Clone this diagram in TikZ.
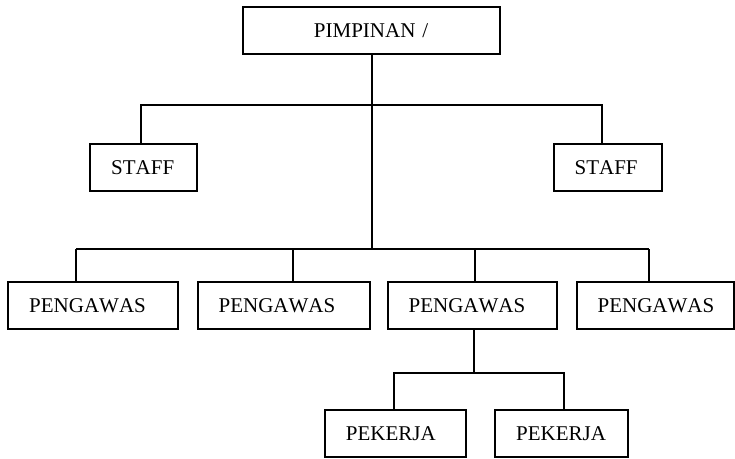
\documentclass[tikz,border=0pt]{standalone}
\usepackage{fontspec}
\setmainfont[Kerning=Off]{Liberation Serif}
\begin{document}
\begin{tikzpicture}[x=1pt,y=-1pt,
  orgbox/.style={draw, line width=1.8pt, rectangle, anchor=north west,
    inner ysep=0pt, inner xsep=21pt, minimum height=47pt, align=left,
    text height=14pt, text depth=0pt, font=\fontsize{21}{25}\selectfont},
  wire/.style={line width=1.8pt}]
\useasboundingbox (0,0) rectangle (735,458);

% head of the organisation
\node[orgbox, inner xsep=0pt, align=center, text width=257pt] (head) at (241.7,6) {PIMPINAN /};

% staff
\node[orgbox, text width=64.4pt] (staffL) at (89.3,142.7) {STAFF};
\node[orgbox, text width=66.3pt] (staffR) at (552.7,142.7) {STAFF};

% supervisors
\node[orgbox, text width=127.4pt] (p1) at (7.3,281) {PENGAWAS};
\node[orgbox, text width=130.6pt] (p2) at (196.7,281) {PENGAWAS};
\node[orgbox, text width=127.3pt] (p3) at (386.7,281) {PENGAWAS};
\node[orgbox, text width=115.3pt] (p4) at (575.7,281) {PENGAWAS};

% workers
\node[orgbox, text width=99pt] (k1) at (324,409.3) {PEKERJA};
\node[orgbox, text width=90.4pt] (k2) at (494.3,409.3) {PEKERJA};

% junction points of the connectors
\coordinate (stem) at (371.7,0);
\coordinate (sL) at (141,105);
\coordinate (sR) at (602.3,105);
\coordinate (j1) at (76,249.3);
\coordinate (j2) at (293.3,249.3);
\coordinate (j3) at (475,249.3);
\coordinate (j4) at (649.3,249.3);
\coordinate (pstem) at (474.3,0);
\coordinate (kL) at (394,373.3);
\coordinate (kR) at (564,373.3);

% main stem from the head down to the supervisors' bus
\draw[wire] (stem |- head.south) -- (stem |- j1);
% staff bus
\draw[wire] (staffL.north -| sL) -- (sL) -- (sR) -- (staffR.north -| sR);
% supervisors' bus
\draw[wire] (j1) -- (j4);
\draw[wire] (j1) -- (p1.north -| j1);
\draw[wire] (j2) -- (p2.north -| j2);
\draw[wire] (j3) -- (p3.north -| j3);
\draw[wire] (j4) -- (p4.north -| j4);
% workers under the third supervisor
\draw[wire] (pstem |- p3.south) -- (pstem |- kL);
\draw[wire] (k1.north -| kL) -- (kL) -- (kR) -- (k2.north -| kR);
\end{tikzpicture}
\end{document}
